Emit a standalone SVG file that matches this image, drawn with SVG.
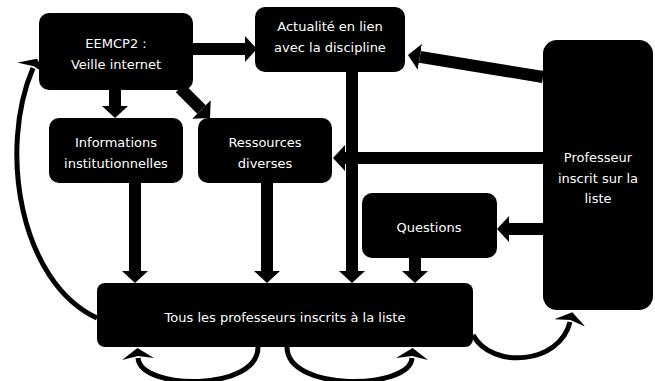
<svg xmlns="http://www.w3.org/2000/svg" width="655" height="381" viewBox="0 0 655 381">
<style>
.box{fill:#000}
.t{fill:#fff;font-family:"DejaVu Sans","Liberation Sans",Arial,sans-serif;font-size:13px;text-anchor:middle}
.a{stroke:#000;stroke-width:12;fill:none;marker-end:url(#h)}
.c{stroke:#000;stroke-width:5;fill:none;marker-end:url(#hc)}
</style>
<defs>
<marker id="h" markerUnits="userSpaceOnUse" viewBox="0 0 12 26" markerWidth="12" markerHeight="26" refX="0" refY="13" orient="auto"><path d="M0,0 L12,13 L0,26 Z" fill="#000"/></marker>
<marker id="hc" markerUnits="userSpaceOnUse" viewBox="0 0 11 32" markerWidth="11" markerHeight="32" refX="1" refY="16" orient="auto"><path d="M0,0 L11,16 L0,32 L3,16 Z" fill="#000"/></marker>
</defs>
<g id="connectors">
<line class="a" x1="193" y1="49" x2="245" y2="49"/>
<line class="a" x1="115" y1="90" x2="115" y2="106"/>
<line class="a" x1="180" y1="88" x2="201.5" y2="109.5"/>
<line class="a" x1="135" y1="183" x2="135" y2="271"/>
<line class="a" x1="267" y1="183" x2="267" y2="271"/>
<line class="a" x1="352" y1="72" x2="352" y2="271"/>
<line class="a" x1="415" y1="258" x2="415" y2="271"/>
<line class="a" x1="543" y1="77" x2="419.8" y2="56.9"/>
<line class="a" x1="543" y1="158" x2="345" y2="158"/>
<line class="a" x1="543" y1="229" x2="509" y2="229"/>
<path class="c" d="M97,318 C20,282 -2,150 33,68"/>
<path class="c" d="M258,347 C258,392 140,390 138,358"/>
<path class="c" d="M287,347 C287,392 410,390 412,358"/>
<path class="c" d="M473,335 C492,370 560,364 570,322"/>
</g>
<g id="eemcp2"><rect class="box" x="39" y="13" width="154" height="77" rx="10"/><text class="t" x="116" y="48">EEMCP2 :</text><text class="t" x="116" y="69">Veille internet</text></g>
<g id="actualite"><rect class="box" x="255" y="7" width="150" height="65" rx="10"/><text class="t" x="330" y="31">Actualité en lien</text><text class="t" x="330" y="52">avec la discipline</text></g>
<g id="informations"><rect class="box" x="49" y="118" width="134" height="65" rx="10"/><text class="t" x="116" y="147">Informations</text><text class="t" x="116" y="168">institutionnelles</text></g>
<g id="ressources"><rect class="box" x="198" y="118" width="134" height="65" rx="10"/><text class="t" x="265" y="147">Ressources</text><text class="t" x="265" y="168">diverses</text></g>
<g id="professeur"><rect class="box" x="543" y="40" width="110" height="270" rx="14"/><text class="t" x="598" y="162">Professeur</text><text class="t" x="598" y="183">inscrit sur la</text><text class="t" x="598" y="203">liste</text></g>
<g id="questions"><rect class="box" x="362" y="193" width="135" height="65" rx="10"/><text class="t" x="429" y="232">Questions</text></g>
<g id="tous"><rect class="box" x="97" y="283" width="376" height="64" rx="8"/><text class="t" x="285" y="322">Tous les professeurs inscrits à la liste</text></g>
</svg>
